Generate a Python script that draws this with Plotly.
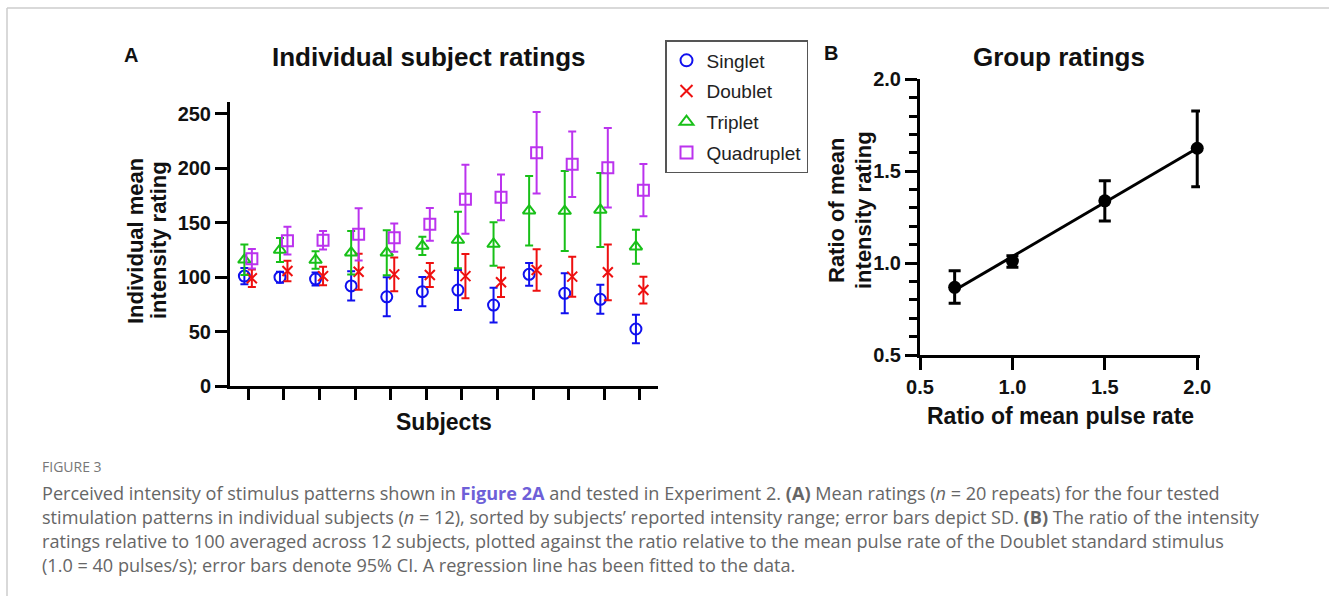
import numpy as np
import plotly.graph_objects as go

# ---------------- data ----------------
subjects = list(range(1, 13))

singlet_mean = [101, 100, 98.3, 92, 82, 86.7, 88.2, 74.4, 102.6, 85.2, 79.7, 52.4]
singlet_sd = [7.5, 5, 6, 13.5, 18, 13.5, 18.4, 16, 10.4, 18.4, 13.3, 13]
doublet_mean = [99, 105.7, 101, 105, 102.6, 102, 101, 95.3, 106.6, 100.5, 104.5, 88.2]
doublet_sd = [8, 9.5, 8.5, 16.5, 15.5, 11, 20.3, 13.6, 19, 18.4, 25.6, 12.3]
triplet_mean = [116, 125, 115.8, 122.5, 122.5, 128.7, 134.2, 130.5, 161.1, 160.8, 161.8, 128]
triplet_sd = [14, 11, 8, 20, 20.7, 8.4, 26, 20, 32, 36.7, 34, 15.6]
quad_mean = [117, 133.6, 134, 139.4, 136.3, 148.6, 171.6, 173.4, 214.4, 203.8, 200.6, 180]
quad_sd = [9, 12.7, 8.5, 24, 13, 15, 31.7, 21, 37.5, 30, 36.5, 24]

series_names = ["Singlet", "Doublet", "Triplet", "Quadruplet"]

pulse_ratio = [0.6875, 1.0, 1.5, 2.0]
rating_ratio = [0.868, 1.011, 1.339, 1.625]
ci_upper = [0.959, 1.040, 1.448, 1.828]
ci_lower = [0.781, 0.977, 1.229, 1.416]

# ---------------- helpers ----------------
W, H = 1329, 596


def px_x(p):
    return p / W


def px_y(p):
    return 1 - p / H


fig = go.Figure()

styles = [
    dict(symbol="circle-open", color="#1010ee", size=11, off=-0.11),
    dict(symbol="x-thin-open", color="#ee1010", size=10, off=0.10),
    dict(symbol="triangle-up-open", color="#18c018", size=11, off=-0.11),
    dict(symbol="square-open", color="#bb33ee", size=11, off=0.10),
]
means = [singlet_mean, doublet_mean, triplet_mean, quad_mean]
sds = [singlet_sd, doublet_sd, triplet_sd, quad_sd]

for name, st, m, s in zip(series_names, styles, means, sds):
    fig.add_trace(go.Scatter(
        x=[v + st["off"] for v in subjects], y=m, mode="markers", name=name,
        legendgroup=name,
        marker=dict(symbol=st["symbol"], size=st["size"], color=st["color"],
                    line=dict(width=2, color=st["color"])),
        error_y=dict(type="data", array=s, visible=True, color=st["color"],
                     thickness=2, width=4),
        xaxis="x", yaxis="y", cliponaxis=False,
    ))

# group ratings
fit = np.polyfit(pulse_ratio, rating_ratio, 1)
fx = [min(pulse_ratio), max(pulse_ratio)]
fy = [fit[0] * v + fit[1] for v in fx]
fig.add_trace(go.Scatter(x=fx, y=fy, mode="lines", line=dict(color="black", width=3),
                         showlegend=False, xaxis="x2", yaxis="y2", cliponaxis=False))
fig.add_trace(go.Scatter(
    x=pulse_ratio, y=rating_ratio, mode="markers", showlegend=False,
    marker=dict(symbol="circle", size=13, color="black"),
    error_y=dict(type="data", symmetric=False,
                 array=[u - m for u, m in zip(ci_upper, rating_ratio)],
                 arrayminus=[m - l for m, l in zip(rating_ratio, ci_lower)],
                 color="black", thickness=3, width=6),
    xaxis="x2", yaxis="y2", cliponaxis=False,
))

axfont = dict(family="Arial", size=20, color="#111", weight="bold")
common = dict(showline=True, linewidth=3, linecolor="black", ticks="outside",
              tickwidth=3, tickcolor="black", showgrid=False, zeroline=False,
              tickfont=axfont, automargin=False)

fig.update_layout(
    width=W, height=H, margin=dict(l=0, r=0, t=0, b=0, pad=0, autoexpand=False),
    paper_bgcolor="white", plot_bgcolor="white",
    font=dict(family="Arial", color="#111"),
    xaxis=dict(domain=[px_x(230), px_x(658)], range=[0.486, 12.51],
               tickvals=subjects, showticklabels=False, ticklen=11, **common),
    yaxis=dict(domain=[px_y(386), px_y(101.7)], range=[0, 261.3],
               tickvals=[0, 50, 100, 150, 200, 250], ticklen=12, **common),
    xaxis2=dict(domain=[px_x(920), px_x(1200)], range=[0.5, 2.015], anchor="y2",
                tickvals=[0.5, 1.0, 1.5, 2.0], tickformat=".1f", ticklen=12, **common),
    yaxis2=dict(domain=[px_y(355), px_y(79.3)], range=[0.5, 2.0], anchor="x2",
                tickvals=[0.5, 1.0, 1.5, 2.0], tickformat=".1f", ticklen=12,
                minor=dict(dtick=0.1, ticks="outside", ticklen=8, tickwidth=3,
                           tickcolor="black"), **common),
    legend=dict(x=px_x(665), y=px_y(40), xanchor="left", yanchor="top",
                bordercolor="#555", borderwidth=1.5, bgcolor="white",
                font=dict(family="Arial", size=19, color="#222"),
                itemsizing="constant", tracegroupgap=3),
    showlegend=True,
)

anns = []


def txt(x, y, t, size, bold=True, color="#111", xanchor="center", angle=0,
        family="Arial"):
    anns.append(dict(x=px_x(x), y=px_y(y), xref="paper", yref="paper",
                     text=f"<b>{t}</b>" if bold else t, showarrow=False,
                     xanchor=xanchor, yanchor="middle", textangle=angle,
                     font=dict(family=family, size=size, color=color)))


txt(131, 55, "A", 20)
txt(831, 53, "B", 20)
txt(429, 57, "Individual subject ratings", 26)
txt(1059, 57, "Group ratings", 26)
txt(444, 422, "Subjects", 23)
txt(1060, 416, "Ratio of mean pulse rate", 23)
txt(135, 241, "Individual mean", 22, angle=-90)
txt(159, 240, "intensity rating", 22, angle=-90)
txt(836, 211, "Ratio of mean", 22, angle=-90)
txt(863, 210, "intensity rating", 22, angle=-90)

cap_color = "#666"
txt(40, 466, "FIGURE 3", 14, bold=False, color="#777", xanchor="left", family="Open Sans")
lines = [
    "Perceived intensity of stimulus patterns shown in <b><span style='color:#6e5fd8'>Figure 2A</span></b> and tested in Experiment 2. <b>(A)</b> Mean ratings (<i>n</i> = 20 repeats) for the four tested",
    "stimulation patterns in individual subjects (<i>n</i> = 12), sorted by subjects’ reported intensity range; error bars depict SD. <b>(B)</b> The ratio of the intensity",
    "ratings relative to 100 averaged across 12 subjects, plotted against the ratio relative to the mean pulse rate of the Doublet standard stimulus",
    "(1.0 = 40 pulses/s); error bars denote 95% CI. A regression line has been fitted to the data.",
]
for i, ln in enumerate(lines):
    txt(40, 493 + 24 * i, ln, 18.1, bold=False, color=cap_color, xanchor="left", family="Open Sans")

fig.update_layout(annotations=anns)

# frame lines
fig.add_shape(type="line", xref="paper", yref="paper", x0=px_x(7), x1=1, y0=px_y(8), y1=px_y(8),
              line=dict(color="#cccccc", width=1.5))
fig.add_shape(type="line", xref="paper", yref="paper", x0=px_x(7), x1=px_x(7), y0=px_y(8), y1=0,
              line=dict(color="#cccccc", width=1.5))

fig.write_html("out.html", config={"displayModeBar": False},
               post_script="document.body.style.margin='0';")
